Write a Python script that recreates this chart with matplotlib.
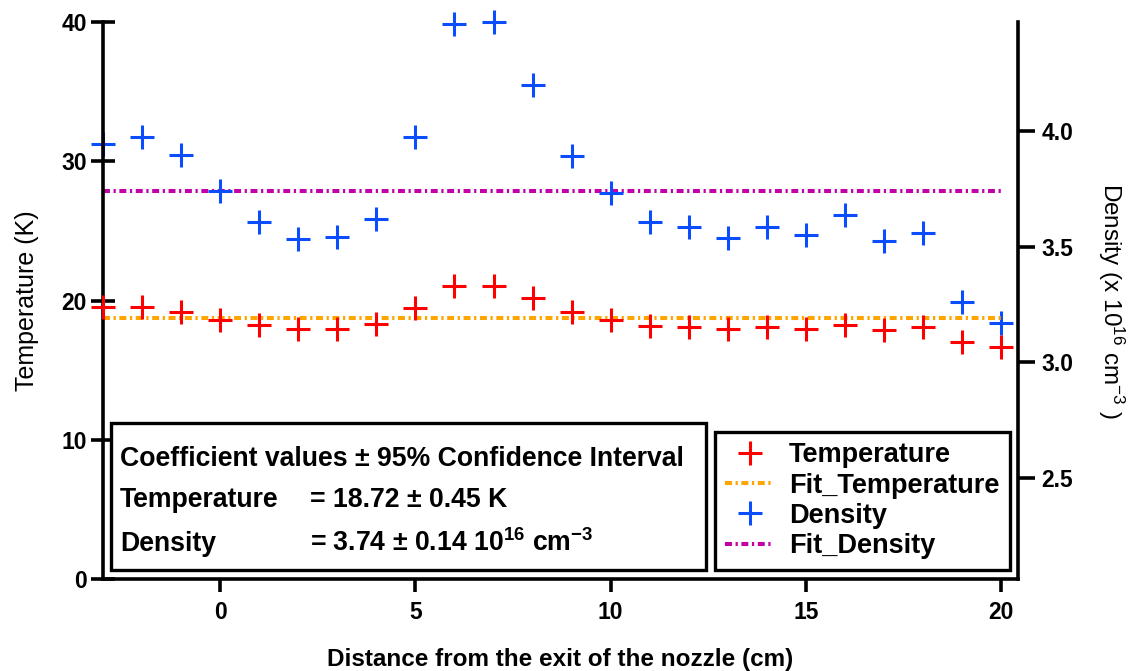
import matplotlib
matplotlib.use("Agg")
import matplotlib.pyplot as plt
from matplotlib.patches import Rectangle

plt.rcParams['font.family'] = ['Liberation Sans', 'DejaVu Sans']
plt.rcParams['mathtext.fontset'] = 'custom'
plt.rcParams['mathtext.rm'] = 'Liberation Sans'
plt.rcParams['mathtext.bf'] = 'Liberation Sans:bold'
plt.rcParams['mathtext.default'] = 'regular'
plt.rcParams['lines.scale_dashes'] = False

# ---- data ----
distance = [-3, -2, -1, 0, 1, 2, 3, 4, 5, 6, 7, 8, 9, 10, 11, 12, 13, 14, 15, 16, 17, 18, 19, 20]
temperature = [19.52, 19.52, 19.16, 18.63, 18.25, 17.96, 17.96, 18.32, 19.48, 21.03, 21.03, 20.19,
               19.16, 18.63, 18.20, 18.13, 17.96, 18.13, 17.96, 18.27, 17.91, 18.08, 17.00, 16.64]
density = [3.944, 3.975, 3.896, 3.742, 3.605, 3.534, 3.542, 3.620, 3.975, 4.460, 4.469, 4.200,
           3.893, 3.730, 3.607, 3.586, 3.538, 3.586, 3.550, 3.636, 3.525, 3.557, 3.261, 3.170]
fit_x = [-3, 20]
fit_temperature = 18.72
fit_density = 3.74
x_ticks = [0, 5, 10, 15, 20]
t_ticks = [0, 10, 20, 30, 40]
d_ticks = [2.5, 3.0, 3.5, 4.0]

RED = '#FF0000'
BLUE = '#0A4DFF'
ORANGE = '#FFA500'
MAGENTA = '#C400A8'
DASHDOT = (0, (5.0, 2.6, 1.6, 2.6))

W, H = 1142, 671
fig = plt.figure(figsize=(W / 100, H / 100), dpi=100)
ax = fig.add_axes([103 / W, 1 - 579 / H, (1018 - 103) / W, (579 - 22) / H])
ax2 = ax.twinx()

for a in (ax, ax2):
    a.patch.set_visible(False)
ax.set_zorder(ax2.get_zorder() + 1)

# fits
l_ft, = ax.plot(fit_x, [fit_temperature] * 2, color=ORANGE, lw=2.9, ls=DASHDOT, label='Fit_Temperature')
l_fd, = ax2.plot(fit_x, [fit_density] * 2, color=MAGENTA, lw=2.9, ls=DASHDOT, label='Fit_Density')
# data
l_t, = ax.plot(distance, temperature, ls='none', marker='+', ms=17, mew=2.2, color=RED,
               label='Temperature', clip_on=False, zorder=5)
l_d, = ax2.plot(distance, density, ls='none', marker='+', ms=17, mew=2.2, color=BLUE,
                label='Density', clip_on=False, zorder=5)

ax.set_xlim(-3.0, 20.43)
ax.set_ylim(0, 40)
ax2.set_ylim(2.065, 4.47)
ax.set_xticks(x_ticks)
ax.set_yticks(t_ticks)
ax2.set_yticks(d_ticks)
ax2.set_yticklabels(['%.1f' % v for v in d_ticks])

ax.spines['top'].set_visible(False)
ax2.spines['top'].set_visible(False)
ax.spines['right'].set_visible(False)
ax2.spines['left'].set_visible(False)
ax2.spines['bottom'].set_visible(False)
for s in ['left', 'bottom']:
    ax.spines[s].set_linewidth(2.6)
ax2.spines['right'].set_linewidth(2.6)

ax.tick_params(axis='y', direction='inout', length=17, width=2.6, labelsize=16.5, pad=3)
ax.tick_params(axis='x', direction='out', length=9, width=2.6, labelsize=16.5, pad=7)
ax2.tick_params(axis='y', direction='out', length=12, width=2.6, labelsize=16.5, pad=5)
for lab in ax.get_xticklabels() + ax.get_yticklabels() + ax2.get_yticklabels():
    lab.set_fontweight('bold')

ax.set_xlabel('Distance from the exit of the nozzle (cm)', fontsize=17.5, fontweight='bold', labelpad=17)
ax.set_ylabel('Temperature (K)', fontsize=18, labelpad=16)
ax2.set_ylabel(r'Density (x 10$^{16}$ cm$^{-3}$ )', fontsize=17.5,
               rotation=270, labelpad=16, va='bottom')

# coefficient box
fig.add_artist(Rectangle((111 / W, 1 - 570 / H), (706 - 111) / W, (570 - 423) / H,
                         transform=fig.transFigure, fill=True, facecolor='white',
                         edgecolor='black', lw=2.4, zorder=10))
tkw = dict(transform=fig.transFigure, fontsize=19.2, fontweight='bold', va='baseline', ha='left', zorder=11)
fig.text(120 / W, 1 - 466 / H, 'Coefficient values \u00b1 95% Confidence Interval', **tkw)
fig.text(120 / W, 1 - 507 / H, 'Temperature', **tkw)
fig.text(310 / W, 1 - 507 / H, '= 18.72 \u00b1 0.45 K', **tkw)
fig.text(120 / W, 1 - 551 / H, 'Density', **tkw)
fig.text(310 / W, 1 - 551 / H, r'= 3.74 $\pm$ 0.14 10$^{16}$ cm$^{-3}$', **tkw)

# legend
leg = ax.legend([l_t, l_ft, l_d, l_fd], ['Temperature', 'Fit_Temperature', 'Density', 'Fit_Density'],
                loc='upper left', bbox_to_anchor=((715 - 103) / (1018 - 103), (579 - 432) / (579 - 22)),
                frameon=True, fancybox=False, framealpha=1, edgecolor='black',
                prop={'size': 19.5, 'weight': 'bold'}, handlelength=1.8, handletextpad=0.55,
                labelspacing=0.16, borderpad=0.38, borderaxespad=0)
leg.get_frame().set_linewidth(2.4)
leg.set_zorder(20)

fig.savefig('out.png', dpi=100)
